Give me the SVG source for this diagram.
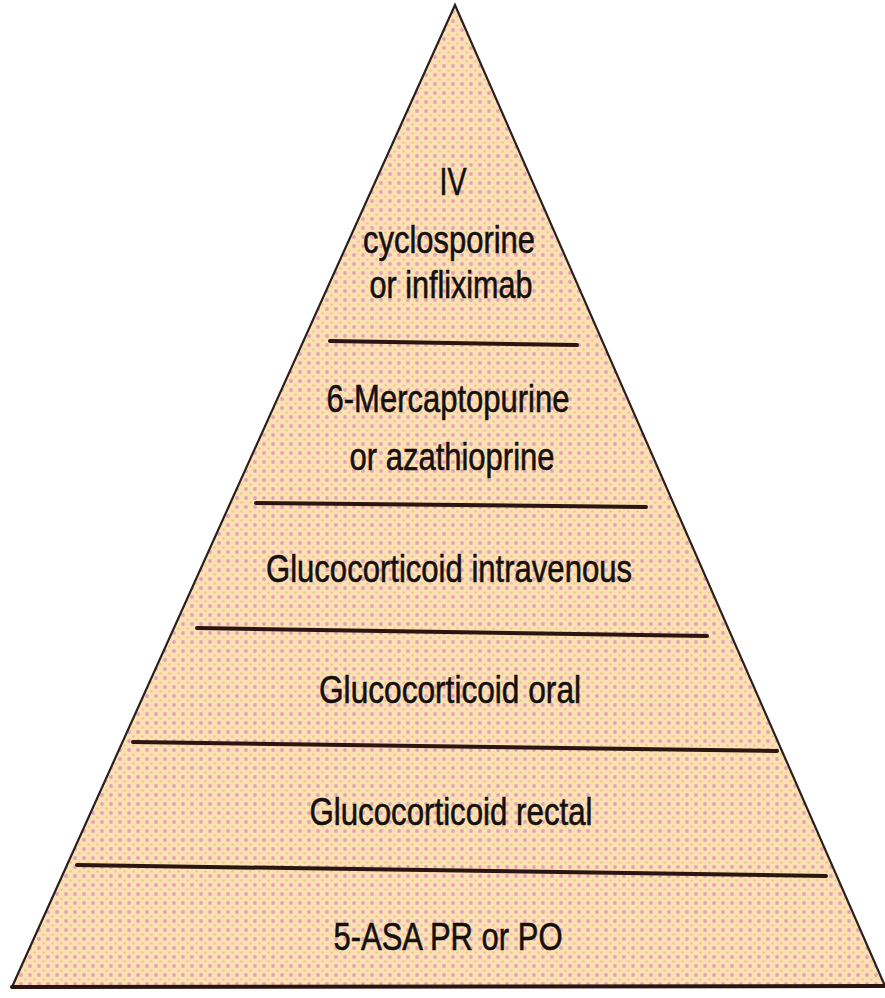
<svg xmlns="http://www.w3.org/2000/svg" width="885" height="998" viewBox="0 0 885 998">
  <defs>
    <pattern id="dots" x="0" y="0" width="9" height="9" patternUnits="userSpaceOnUse">
      <rect width="9" height="9" fill="#fbe0b4"/>
      <circle cx="3" cy="3" r="1.9" fill="#e4a2b6"/>
      <circle cx="7.5" cy="7.5" r="1.2" fill="#f2c586"/>
    </pattern>
    <style>
      .t { font-family: "Liberation Sans", Arial, sans-serif; font-size: 39px; fill: #141010; stroke: #141010; stroke-width: 0.6; text-anchor: middle; }
      .div { stroke: #2a1510; stroke-width: 4; stroke-linecap: round; fill: none; }
    </style>
  </defs>
  <rect width="885" height="998" fill="#ffffff"/>
  <g id="pyramid">
    <polygon points="455,5 12,987 885,986" fill="url(#dots)" stroke="#2a2020" stroke-width="2.2"/>
    <line x1="12" y1="987" x2="885" y2="986" class="div"/>
  </g>
  <g id="connectors">
    <line class="div" x1="330" y1="341" x2="577" y2="345"/>
    <line class="div" x1="256" y1="503" x2="646" y2="507"/>
    <line class="div" x1="197" y1="628" x2="707" y2="636"/>
    <line class="div" x1="133" y1="742" x2="777" y2="751"/>
    <line class="div" x1="77" y1="865" x2="826" y2="876"/>
  </g>
  <g id="tier1">
    <text class="t" x="453" y="195" textLength="27" lengthAdjust="spacingAndGlyphs">IV</text>
    <text class="t" x="449" y="253" textLength="172" lengthAdjust="spacingAndGlyphs">cyclosporine</text>
    <text class="t" x="451" y="298" textLength="163" lengthAdjust="spacingAndGlyphs">or infliximab</text>
  </g>
  <g id="tier2">
    <text class="t" x="448" y="412" textLength="243" lengthAdjust="spacingAndGlyphs">6-Mercaptopurine</text>
    <text class="t" x="452" y="470" textLength="205" lengthAdjust="spacingAndGlyphs">or azathioprine</text>
  </g>
  <g id="tier3">
    <text class="t" x="449" y="582" textLength="366" lengthAdjust="spacingAndGlyphs">Glucocorticoid intravenous</text>
  </g>
  <g id="tier4">
    <text class="t" x="450" y="703" textLength="262" lengthAdjust="spacingAndGlyphs">Glucocorticoid oral</text>
  </g>
  <g id="tier5">
    <text class="t" x="451" y="825" textLength="283" lengthAdjust="spacingAndGlyphs">Glucocorticoid rectal</text>
  </g>
  <g id="tier6">
    <text class="t" x="448" y="950" textLength="229" lengthAdjust="spacingAndGlyphs">5-ASA PR or PO</text>
  </g>
</svg>
